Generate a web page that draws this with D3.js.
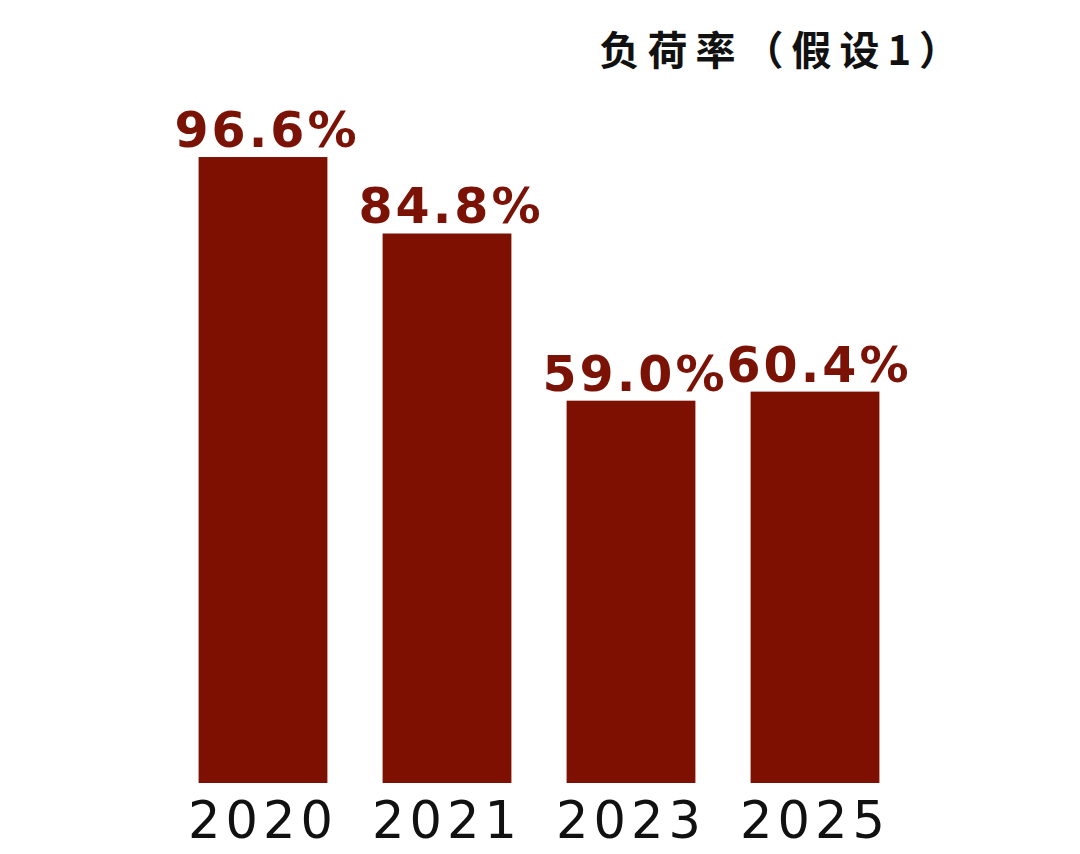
<!DOCTYPE html>
<html>
<head>
<meta charset="utf-8">
<script src="https://cdn.jsdelivr.net/npm/d3@7/dist/d3.min.js"></script>
<style>
  html, body { margin: 0; padding: 0; background: #fff; }
  svg { display: block; }
</style>
</head>
<body>
<svg id="chart" width="1080" height="854"></svg>
<script>
const title = "负荷率（假设1）";
const years = ["2020", "2021", "2023", "2025"];
const values = [96.6, 84.8, 59.0, 60.4];
const valueLabels = ["96.6%", "84.8%", "59.0%", "60.4%"];

const svg = d3.select("#chart");
const barColor = "#7d1001";

const x = d3.scaleBand()
  .domain(years)
  .range([171, 907])
  .paddingInner(0.3)
  .paddingOuter(0.15);

const y = d3.scaleLinear()
  .domain([0, 100])
  .range([783, 135]);

const data = years.map((yr, i) => ({ year: yr, value: values[i], label: valueLabels[i] }));

svg.append("g").selectAll("rect")
  .data(data)
  .join("rect")
  .attr("x", d => x(d.year))
  .attr("y", d => y(d.value))
  .attr("width", x.bandwidth())
  .attr("height", d => y(0) - y(d.value))
  .attr("fill", barColor);

svg.append("g").selectAll("text")
  .data(data)
  .join("text")
  .attr("x", d => x(d.year) + x.bandwidth() / 2 + 4)
  .attr("y", d => y(d.value) - 10)
  .attr("text-anchor", "middle")
  .attr("fill", "#7a1206")
  .style("font-family", "'DejaVu Sans', sans-serif")
  .style("font-weight", "bold")
  .style("font-size", "49px")
  .style("letter-spacing", "3px")
  .text(d => d.label);

// x axis labels via d3 axis
const xAxis = d3.axisBottom(x).tickSize(0).tickPadding(0);
const gx = svg.append("g")
  .attr("transform", `translate(0, ${y(0)})`)
  .call(xAxis);
gx.select(".domain").remove();
gx.selectAll("text")
  .attr("dy", "0")
  .attr("y", 55)
  .attr("fill", "#111")
  .style("font-family", "'DejaVu Sans', sans-serif")
  .style("font-size", "51px")
  .style("letter-spacing", "5px");

svg.append("text")
  .attr("x", 967)
  .attr("y", 65)
  .attr("text-anchor", "end")
  .attr("fill", "#111")
  .style("font-family", "'Noto Sans CJK SC', sans-serif")
  .style("font-weight", "bold")
  .style("font-size", "40px")
  .style("letter-spacing", "8px")
  .text(title);
</script>
</body>
</html>
